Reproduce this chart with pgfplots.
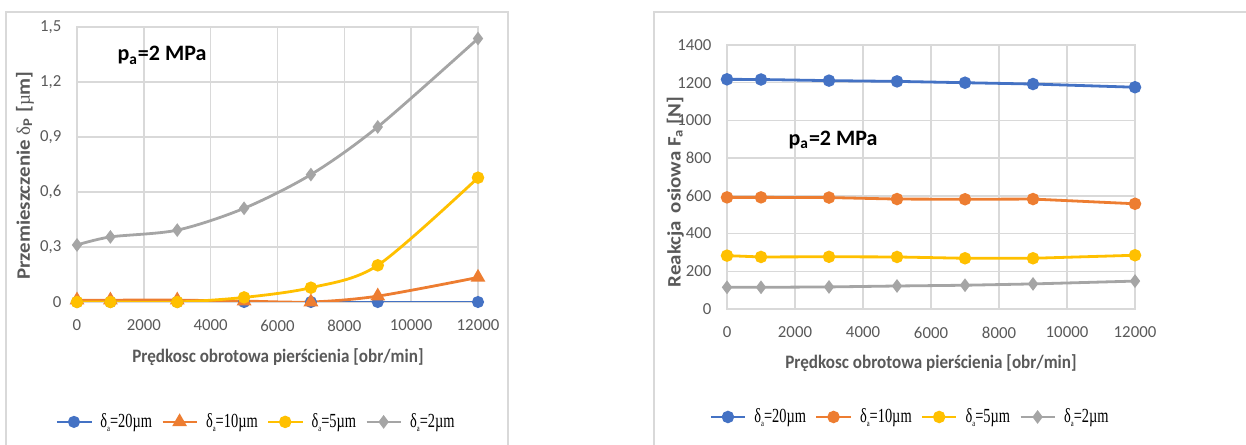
\documentclass[border=0pt]{standalone}
\usepackage{fontspec}
\setmainfont{Carlito}
\newfontfamily\xlab{Carlito}[FakeStretch=0.9]
\newfontfamily\ylab{Carlito}[FakeStretch=1.1]
\newfontfamily\legfont{Liberation Serif}[FakeStretch=0.72]
\newfontfamily\serif{Liberation Serif}
\usepackage{pgfplots}
\pgfplotsset{compat=1.18}
\definecolor{cblue}{HTML}{4472C4}
\definecolor{corange}{HTML}{ED7D31}
\definecolor{cyellow}{HTML}{FFC000}
\definecolor{cgray}{HTML}{A5A5A5}
\definecolor{gridc}{HTML}{D9D9D9}
\definecolor{textg}{HTML}{595959}

\pgfplotsset{
  excel/.style={
    scale only axis,
    xmin=0, xmax=12000,
    xtick={0,2000,...,12000},
    scaled ticks=false,
    /pgf/number format/use comma,
    /pgf/number format/1000 sep={},
    /pgf/number format/assume math mode=true,
    axis line style={gridc, line width=0.7pt},
    grid=major,
    grid style={gridc, line width=0.7pt},
    tick style={draw=none},
    ticklabel style={text=textg, font=\fontsize{8.4}{10}\selectfont},
    yticklabel style={xshift=-4.3pt},
    xticklabel style={yshift=-5.3pt},
    xlabel style={text=textg, font=\xlab\bfseries\fontsize{9.5}{11}\selectfont},
    ylabel style={text=textg, font=\ylab\bfseries\fontsize{9.5}{11}\selectfont},
    legend columns=4,
    legend style={draw=none, fill=none, font=\legfont\fontsize{10}{11}\selectfont,
      /tikz/every odd column/.append style={column sep=2pt},
      /tikz/every even column/.append style={column sep=2.5pt}},
    every axis plot/.append style={line width=1.4pt},
  },
}
\newcommand{\da}[1]{δ\raisebox{-0.4ex}{\fontsize{4.5}{5}\selectfont a}=#1µm}

\begin{document}
\begin{tikzpicture}
\clip (0,0) rectangle (623pt,222pt);
\draw[gridc, line width=0.6pt] (3pt,-5pt) rectangle (254pt,216pt);
\draw[gridc, line width=0.6pt] (327pt,-5pt) rectangle (630pt,216pt);

% left panel: displacement
\begin{axis}[excel,
  at={(38.5pt,71pt)}, anchor=south west,
  width=200.5pt, height=137.5pt,
  ymin=0, ymax=1.5, ytick={0,0.3,0.6,0.9,1.2,1.5},
  yticklabel style={/pgf/number format/fixed, /pgf/number format/precision=1},
  xlabel={Prędkosc obrotowa pierścienia [obr/min]},
  ylabel={Przemieszczenie {\serif\mdseries δ}\textsubscript{P} [{\serif\mdseries µ}m]},
  xlabel style={at={(axis description cs:0.501,-0.2)}, anchor=center},
  ylabel style={at={(axis description cs:-0.13,0.46)}, anchor=center},
  legend style={at={(axis description cs:0.449,-0.436)}, anchor=center},
]
\addplot[cblue, smooth, mark=*, mark size=2.3pt] coordinates {
  (0,0) (1000,0) (3000,0) (5000,0) (7000,0) (9000,0) (12000,0)};
\addplot[corange, smooth, mark=triangle*, mark size=2.9pt] coordinates {
  (0,0.01) (1000,0.01) (3000,0.01) (5000,0.005) (7000,0) (9000,0.032) (12000,0.134)};
\addplot[cyellow, smooth, mark=*, mark size=2.4pt] coordinates {
  (0,0) (1000,0) (3000,0) (5000,0.025) (7000,0.078) (9000,0.2) (12000,0.678)};
\addplot[cgray, smooth, mark=diamond*, mark size=2.3pt] coordinates {
  (0,0.311) (1000,0.355) (3000,0.392) (5000,0.511) (7000,0.695) (9000,0.955) (12000,1.437)};
\legend{\da{20},\da{10},\da{5},\da{2}}
\node[font=\bfseries\fontsize{11}{13}\selectfont] at (axis cs:2544,1.345) {p\textsubscript{a}=2 MPa};
\end{axis}

% right panel: axial reaction
\begin{axis}[excel,
  at={(363.5pt,67.5pt)}, anchor=south west,
  width=204pt, height=132pt,
  ymin=0, ymax=1400, ytick={0,200,...,1400},
  xlabel={Prędkosc obrotowa pierścienia [obr/min]},
  ylabel={Reakcja\, osiowa F\textsubscript{a} [N]},
  xlabel style={at={(axis description cs:0.5,-0.205)}, anchor=center},
  ylabel style={at={(axis description cs:-0.127,0.443)}, anchor=center},
  legend style={at={(axis description cs:0.451,-0.409)}, anchor=center},
]
\addplot[cblue, mark=*, mark size=2.4pt] coordinates {
  (0,1218) (1000,1217) (3000,1211) (5000,1207) (7000,1200) (9000,1193) (12000,1176)};
\addplot[corange, mark=*, mark size=2.4pt] coordinates {
  (0,592) (1000,592) (3000,591) (5000,583) (7000,582) (9000,583) (12000,558)};
\addplot[cyellow, mark=*, mark size=2.4pt] coordinates {
  (0,283) (1000,276) (3000,277) (5000,276) (7000,269) (9000,269) (12000,285)};
\addplot[cgray, mark=diamond*, mark size=2.3pt] coordinates {
  (0,115) (1000,115) (3000,117) (5000,122) (7000,126) (9000,133) (12000,148)};
\legend{\da{20},\da{10},\da{5},\da{2}}
\node[font=\bfseries\fontsize{11}{13}\selectfont] at (axis cs:3118,896) {p\textsubscript{a}=2 MPa};
\end{axis}
\end{tikzpicture}
\end{document}
